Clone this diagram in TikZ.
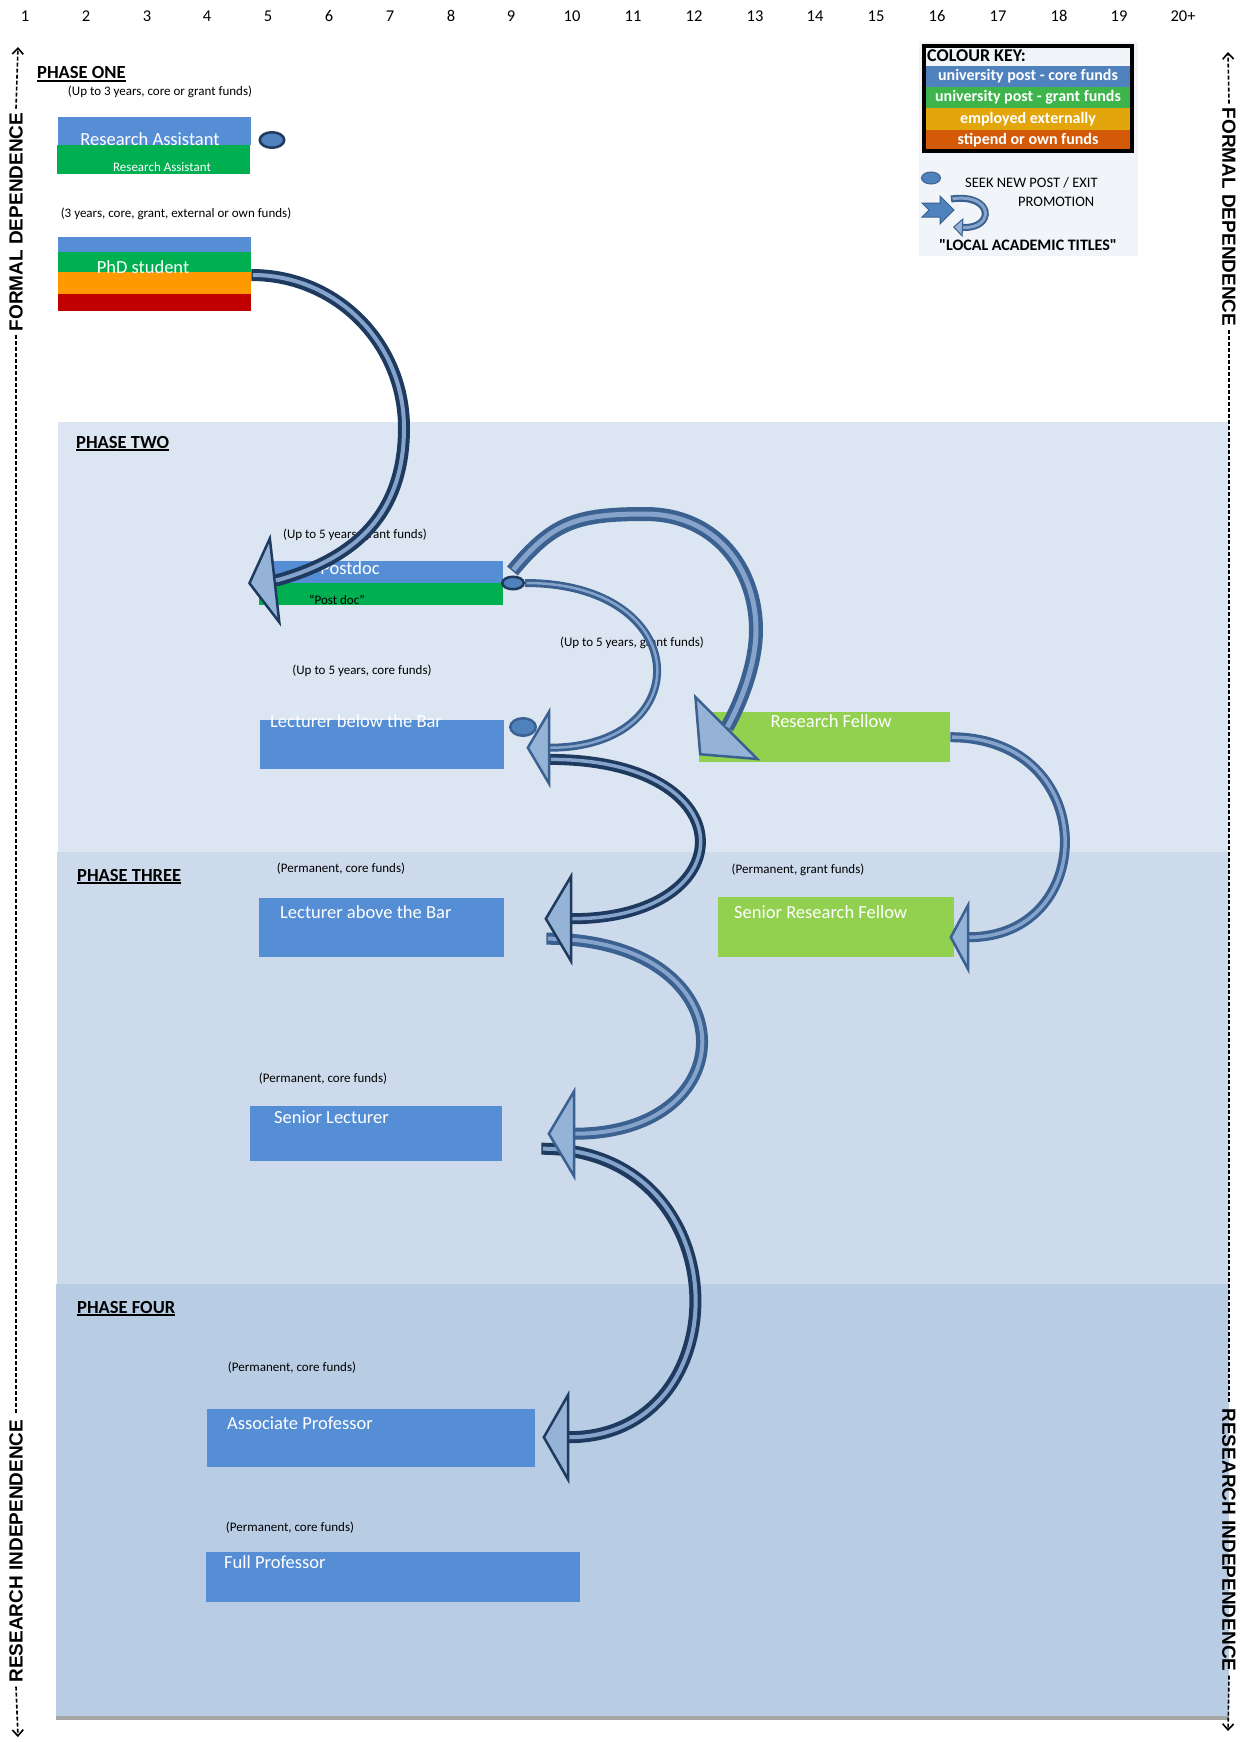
\documentclass[tikz,border=0pt]{standalone}
\usepackage{fontspec}
\setmainfont{Carlito}
\newfontfamily\axisfont{Liberation Sans}
\usetikzlibrary{arrows.meta,calc,shapes.geometric}
\pgfdeclarelayer{front}
\pgfsetlayers{main,front}

\definecolor{coreblue}{HTML}{558ED5}
\definecolor{grantgreen}{HTML}{00B050}
\definecolor{extorange}{HTML}{FF9900}
\definecolor{ownred}{HTML}{C00000}
\definecolor{fellowgreen}{HTML}{92D050}
\definecolor{phasetwo}{HTML}{DCE6F2}
\definecolor{phasethree}{HTML}{CCDAEB}
\definecolor{phasefour}{HTML}{B8CCE4}
\definecolor{bandedge}{HTML}{A6A6A6}
\definecolor{keybg}{HTML}{F1F5FA}
\definecolor{keyblue}{HTML}{4F81BD}
\definecolor{keygreen}{HTML}{3DB54A}
\definecolor{keygold}{HTML}{E2A60A}
\definecolor{keyorange}{HTML}{D45A08}
\definecolor{promodark}{HTML}{1F3A5F}
\definecolor{promomid}{HTML}{3A6190}
\definecolor{promofill}{HTML}{86A3CC}
\definecolor{headfill}{HTML}{95B3D7}

\tikzset{
	colnum/.style={inner sep=0pt, font=\fontsize{16.5}{18}\selectfont},
	phasetitle/.style={anchor=base west, inner sep=0pt, font=\fontsize{18.5}{20}\selectfont\bfseries},
	fundnote/.style={inner sep=0pt, font=\fontsize{13}{15}\selectfont},
	postbox/.style={anchor=north west, inner sep=0pt, minimum width=#1},
	posttext/.style={inner sep=0pt, text=white, font=\fontsize{18.5}{20}\selectfont},
	keystrip/.style={minimum width=208pt, inner sep=0pt, text=white, font=\fontsize{16}{18}\selectfont\bfseries},
	legendtext/.style={inner sep=0pt, font=\fontsize{14.5}{16}\selectfont},
	exitoval/.style={ellipse, inner sep=0pt, fill=keyblue, draw=promodark, line width=2.5pt},
	axislabel/.style={inner sep=4pt, font=\axisfont\fontsize{19}{21}\selectfont\bfseries},
	axisline/.style={line width=1.6pt, dash pattern=on 4pt off 2pt},
	axistip/.style={-{Straight Barb[length=6pt,width=11pt,line width=1.6pt]}},
	promo/.style n args={5}{line width=#1, -{Triangle[length=#3,width=#4,fill=headfill,line width=#5]},
		postaction={draw=promofill, line width=#2, -, shorten >=#3, shorten <=1.5pt}},
}

\begin{document}
\begin{tikzpicture}[x=1pt,y=-1pt]
\useasboundingbox (0,0) rectangle (1247,1742);

\fill[phasetwo] (58,422) rectangle (1229,852);
\fill[phasethree] (57,852) rectangle (1229,1284);
\fill[phasefour] (56,1284) rectangle (1229,1716);
\fill[bandedge] (56,1716) rectangle (1229,1720);
\fill[keybg] (919,42) rectangle (1138,256);

\node[colnum] (c1) at (25,16) {1};
\node[colnum] (c2) at (86,16) {2};
\node[colnum] (c3) at (147,16) {3};
\node[colnum] (c4) at (207,16) {4};
\node[colnum] (c5) at (268,16) {5};
\node[colnum] (c6) at (329,16) {6};
\node[colnum] (c7) at (390,16) {7};
\node[colnum] (c8) at (451,16) {8};
\node[colnum] (c9) at (511,16) {9};
\node[colnum] (c10) at (572,16) {10};
\node[colnum] (c11) at (633,16) {11};
\node[colnum] (c12) at (694,16) {12};
\node[colnum] (c13) at (755,16) {13};
\node[colnum] (c14) at (815,16) {14};
\node[colnum] (c15) at (876,16) {15};
\node[colnum] (c16) at (937,16) {16};
\node[colnum] (c17) at (998,16) {17};
\node[colnum] (c18) at (1059,16) {18};
\node[colnum] (c19) at (1119,16) {19};
\node[colnum] (c20) at (1183,16) {20+};

\coordinate (ltop) at (18,47);
\coordinate (lbot) at (18,1737);
\node[axislabel, rotate=90] (lformal) at (16,222) {FORMAL DEPENDENCE};
\node[axislabel, rotate=90] (lresearch) at (16,1551) {RESEARCH INDEPENDENCE};
\draw[axisline, axistip] (lformal.east) -- (ltop);
\draw[axisline] (lformal.west) -- (lresearch.east);
\draw[axisline, axistip] (lresearch.west) -- (lbot);
\coordinate (rtop) at (1228,52);
\coordinate (rbot) at (1228,1731);
\node[axislabel, rotate=-90] (rformal) at (1229,217) {FORMAL DEPENDENCE};
\node[axislabel, rotate=-90] (rresearch) at (1229,1540) {RESEARCH INDEPENDENCE};
\draw[axisline, axistip] (rformal.west) -- (rtop);
\draw[axisline] (rformal.east) -- (rresearch.west);
\draw[axisline, axistip] (rresearch.east) -- (rbot);

\node[phasetitle] (ph1) at (37,79) {PHASE ONE};
\node[phasetitle] (ph2) at (76,448) {PHASE TWO};
\node[phasetitle] (ph3) at (77,881) {PHASE THREE};
\node[phasetitle] (ph4) at (77,1313) {PHASE FOUR};
\draw[line width=1.4pt] ([yshift=-2pt]ph1.base west) -- ([yshift=-2pt]ph1.base east);
\draw[line width=1.4pt] ([yshift=-2pt]ph2.base west) -- ([yshift=-2pt]ph2.base east);
\draw[line width=1.4pt] ([yshift=-2pt]ph3.base west) -- ([yshift=-2pt]ph3.base east);
\draw[line width=1.4pt] ([yshift=-2pt]ph4.base west) -- ([yshift=-2pt]ph4.base east);

\node[anchor=west, inner sep=0pt, font=\fontsize{18}{20}\selectfont\bfseries] (keytitle) at (927,56) {COLOUR KEY:};
\node[keystrip, minimum height=21pt, fill=keyblue] (keycore) at (1028,76.5) {university post - core funds};
\node[keystrip, minimum height=21pt, fill=keygreen] (keygrant) at (1028,97.5) {university post - grant funds};
\node[keystrip, minimum height=22pt, fill=keygold] (keyext) at (1028,119) {employed externally};
\node[keystrip, minimum height=21pt, fill=keyorange] (keyown) at (1028,140.5) {stipend or own funds};
\draw[line width=4pt] (924,46) rectangle (1132,151);
\node[legendtext, anchor=west] (keyexittext) at (965,183) {SEEK NEW POST / EXIT};
\node[legendtext, anchor=west] (keypromotext) at (1018,202) {PROMOTION};
\node[inner sep=0pt, font=\fontsize{16}{18}\selectfont\bfseries] (keytitles) at (1028,245) {\textquotedbl LOCAL ACADEMIC TITLES\textquotedbl};
\filldraw[fill=keyblue, draw=promomid, line width=1pt] (922,203) -- (940,203) -- (940,196) -- (954,210) -- (940,224) -- (940,217) -- (922,217) -- (929,210) -- cycle;
\draw[promo={7pt}{3pt}{10pt}{19pt}{1pt}, promomid] (951,199) .. controls (994,193) and (995,229) .. (953,227);

\node[fundnote] (ranote) at (160,92) {(Up to 3 years, core or grant funds)};
\node[postbox=193pt, minimum height=28pt, fill=coreblue] (ra) at (58,117) {};
\node[postbox=193pt, minimum height=29pt, fill=grantgreen] (ragrant) at (57,145) {};
\node[posttext] (ratext) at (150,139) {Research Assistant};
\node[fundnote, text=white] (ragranttext) at (162,167) {Research Assistant};

\node[fundnote] (phdnote) at (176,214) {(3 years, core, grant, external or own funds)};
\node[postbox=193pt, minimum height=15pt, fill=coreblue] (phd) at (58,237) {};
\node[postbox=193pt, minimum height=20pt, fill=grantgreen] (phdgrant) at (58,252) {};
\node[postbox=193pt, minimum height=22pt, fill=extorange] (phdext) at (58,272) {};
\node[postbox=193pt, minimum height=17pt, fill=ownred] (phdown) at (58,294) {};
\node[posttext] (phdtext) at (143,267) {PhD student};

\node[fundnote] (postdocnote) at (355,535) {(Up to 5 years, grant funds)};
\node[postbox=244pt, minimum height=22pt, fill=coreblue] (postdoc) at (259,561) {};
\node[postbox=244pt, minimum height=22pt, fill=grantgreen] (postdocgrant) at (259,583) {};
\node[posttext] (postdoctext) at (350,568) {Postdoc};
\node[fundnote] (postdocgranttext) at (337,600) {“Post doc”};

\node[fundnote] (lbbnote) at (362,671) {(Up to 5 years, core funds)};
\node[postbox=244pt, minimum height=49pt, fill=coreblue] (lbb) at (260,720) {};
\node[posttext, anchor=west] (lbbtext) at (270,721) {Lecturer below the Bar};

\node[fundnote] (rfnote) at (632,643) {(Up to 5 years, grant funds)};
\node[postbox=251pt, minimum height=50pt, fill=fellowgreen] (rf) at (699,712) {};
\node[posttext] (rftext) at (831,721) {Research Fellow};

\node[fundnote] (labnote) at (341,869) {(Permanent, core funds)};
\node[postbox=245pt, minimum height=59pt, fill=coreblue] (lab) at (259,898) {};
\node[posttext, anchor=west] (labtext) at (280,912) {Lecturer above the Bar};

\node[fundnote] (srfnote) at (798,870) {(Permanent, grant funds)};
\node[postbox=236pt, minimum height=60pt, fill=fellowgreen] (srf) at (718,897) {};
\node[posttext, anchor=west] (srftext) at (734,912) {Senior Research Fellow};

\node[fundnote] (slnote) at (323,1079) {(Permanent, core funds)};
\node[postbox=252pt, minimum height=55pt, fill=coreblue] (sl) at (250,1106) {};
\node[posttext, anchor=west] (sltext) at (274,1117) {Senior Lecturer};

\node[fundnote] (apnote) at (292,1368) {(Permanent, core funds)};
\node[postbox=328pt, minimum height=58pt, fill=coreblue] (ap) at (207,1409) {};
\node[posttext, anchor=west] (aptext) at (227,1423) {Associate Professor};

\node[fundnote] (fpnote) at (290,1528) {(Permanent, core funds)};
\node[postbox=374pt, minimum height=50pt, fill=coreblue] (fp) at (206,1552) {};
\node[posttext, anchor=west] (fptext) at (224,1562) {Full Professor};

\begin{pgfonlayer}{front}
\node[exitoval, minimum width=24.5pt, minimum height=15.5pt] (raexit) at (272,140) {};
\node[exitoval, minimum width=21.5pt, minimum height=12.5pt] (postdocexit) at (513,583) {};
\node[exitoval, minimum width=25.5pt, minimum height=17.5pt, draw=promomid] (lbbexit) at (523,727) {};
\node[exitoval, minimum width=19pt, minimum height=12pt, line width=1pt, draw=promomid] (keyexit) at (931,178) {};
\end{pgfonlayer}

\draw[promo={12pt}{4pt}{27pt}{94pt}{2.5pt}, promodark] ($(sl.east)+(39,15)$) .. controls +(200,0) and +(200,0) .. ($(ap.east)+(7,-1)$);
\draw[promo={12pt}{4pt}{28pt}{94pt}{2.5pt}, promomid] ($(lab.east)+(42,11)$) .. controls +(202,0) and +(202,0) .. ($(sl.east)+(45,0)$);
\draw[promo={11pt}{3.5pt}{28pt}{94pt}{2.5pt}, promodark] ($(lbb.south east)+(45,-10)$) .. controls +(200,0) and +(200,0) .. ($(lab.east)+(40,-9)$);
\draw[promo={8pt}{2.5pt}{24pt}{81pt}{2.5pt}, promomid] (postdocexit.east) .. controls +(170,0) and +(172,0) .. ($(lbb.east)+(22,3)$);
\draw[promo={10pt}{3.5pt}{20pt}{74pt}{2.5pt}, promomid] (rf.east) .. controls +(150,0) and +(150,0) .. ($(srf.east)+(-5,10)$);
\draw[promo={14pt}{5pt}{40pt}{94pt}{2.5pt}, promomid] ($(postdoc.north east)+(9,10)$) .. controls +(40,-48) and +(-70,0) .. (645,514) .. controls +(70,0) and +(0,-62) .. (756,630) .. controls +(0,48) and +(28,-28) .. ($(rf.south west)+(0,-7)$);
\draw[promo={12pt}{4pt}{28pt}{93pt}{2.5pt}, promodark] ($(phdext.north east)+(0,3)$) .. controls +(85,0) and +(0,-85) .. (404,428) .. controls +(0,92) and +(70,-20) .. (278,580) -- ($(postdoc.south west)+(-11,0)$);
\end{tikzpicture}
\end{document}
